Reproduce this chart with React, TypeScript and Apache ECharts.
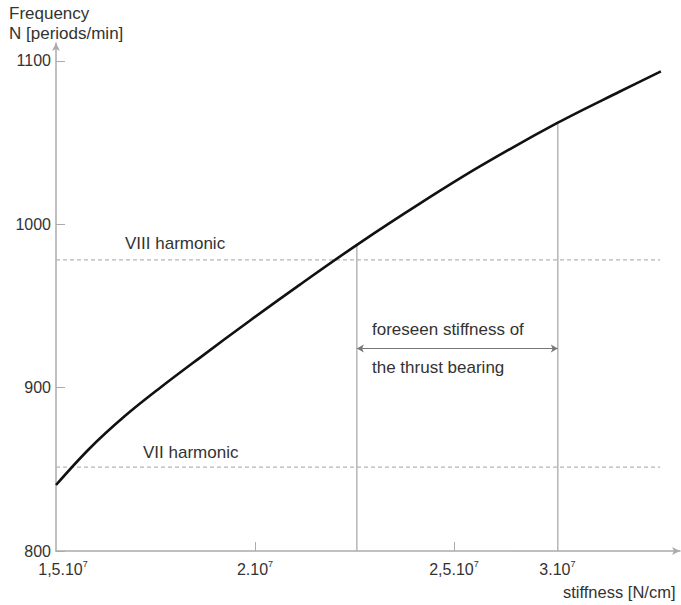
import React, { useEffect, useRef } from "react";
import * as echarts from "echarts";

// stiffness in units of 1e7 N/cm (as positioned in the drawing)
const stiffness = [1.5, 1.585, 1.673, 1.761, 1.862, 1.987, 2.113, 2.259, 2.415, 2.565, 2.761, 2.917, 3.02];
const frequency = [840.4, 862.9, 882.6, 899.8, 918.4, 941, 963.1, 987.9, 1012.8, 1035.4, 1062.2, 1081.3, 1093.6];

const harmonicNames = ["VIII harmonic", "VII harmonic"];
const harmonicLevels = [978.2, 851.4];
const harmonicSpan = [1.5, 3.018];

const bearingStiffness = [2.256, 2.761];
const bearingFrequency = [987.6, 1062.2];
const bearingArrowLevel = 924;

const directionArrowX = [2.151, 2.382];
const directionArrowY = 776.7;

const xTickValues = [1.5, 2.0, 2.5, 2.76];
const xTickLabels = ["1,5", "2", "2,5", "3"];
const xMinorTicks = [2.0, 2.5];
const yTickValues = [800, 900, 1000, 1100];

const FONT = "'Liberation Sans', Arial, Helvetica, sans-serif";
const TXT = "#333";
const GRAY = "#ababab";

export default function App() {
  const ref = useRef<HTMLDivElement>(null);
  useEffect(() => {
    const chart = echarts.init(ref.current!, null, { renderer: "svg" });
    const text = (x: number, y: number, t: string, size = 17) => ({
      type: "text",
      x,
      y,
      silent: true,
      style: { text: t, fontSize: size, fontFamily: FONT, fill: TXT, verticalAlign: "middle" },
    });
    const option: any = {
      animation: false,
      backgroundColor: "#fff",
      grid: { left: 56, right: 1, top: 43, bottom: 54, outerBoundsMode: "none" },
      xAxis: {
        type: "value",
        min: 1.5,
        max: 3.068,
        splitLine: { show: false },
        axisLine: { lineStyle: { color: GRAY, width: 1.5 }, symbol: ["none", "arrow"], symbolSize: [6, 8] },
        axisTick: { show: true, inside: true, length: 9, lineStyle: { color: GRAY }, customValues: xMinorTicks },
        axisLabel: {
          customValues: xTickValues,
          margin: 8,
          formatter: (v: number) => {
            const i = xTickValues.findIndex((t) => Math.abs(t - v) < 1e-6);
            if (i < 0) return "";
            return i === 0 ? `{p|}{a|${xTickLabels[i]}.10}{s|7}` : `{a|${xTickLabels[i]}.10}{s|7}`;
          },
          rich: {
            p: { width: 14 },
            a: { fontSize: 16, fontFamily: FONT, color: TXT, lineHeight: 20 },
            s: { fontSize: 9, fontFamily: FONT, color: TXT, verticalAlign: "top", lineHeight: 12 },
          },
        },
      },
      yAxis: {
        type: "value",
        min: 800,
        max: 1111,
        splitLine: { show: false },
        axisLine: { show: true, lineStyle: { color: GRAY, width: 1.5 }, symbol: ["none", "arrow"], symbolSize: [6, 8] },
        axisTick: { show: true, inside: true, length: 9, lineStyle: { color: GRAY }, customValues: yTickValues },
        axisLabel: {
          customValues: yTickValues,
          margin: 5,
          fontSize: 16,
          fontFamily: FONT,
          color: TXT,
          formatter: (v: number) => String(Math.round(v)),
        },
      },
      series: [
        ...harmonicLevels.map((lvl, i) => ({
          type: "line",
          name: harmonicNames[i],
          data: harmonicSpan.map((x) => [x, lvl]),
          symbol: "none",
          clip: false,
          lineStyle: { color: "#b5b5b5", width: 1.2, type: [4, 3] },
        })),
        ...bearingStiffness.map((x, i) => ({
          type: "line",
          data: [
            [x, 800],
            [x, bearingFrequency[i]],
          ],
          symbol: "none",
          clip: false,
          lineStyle: { color: GRAY, width: 1.3 },
        })),
        {
          type: "line",
          data: [],
          clip: false,
          markLine: {
            silent: true,
            animation: false,
            symbol: ["arrow", "arrow"],
            symbolSize: [6, 7],
            label: { show: false },
            lineStyle: { color: "#777", width: 1.2, type: "solid" },
            data: [
              [
                { coord: [bearingStiffness[0], bearingArrowLevel] },
                { coord: [bearingStiffness[1], bearingArrowLevel] },
              ],
              [
                { coord: [directionArrowX[0], directionArrowY], symbol: "none" },
                { coord: [directionArrowX[1], directionArrowY], symbol: "arrow" },
              ],
            ],
          },
        },
        {
          type: "line",
          name: "frequency",
          data: stiffness.map((x, i) => [x, frequency[i]]),
          smooth: 0.35,
          symbol: "none",
          clip: false,
          lineStyle: { color: "#111", width: 2.6 },
        },
      ],
      graphic: [
        text(9, 13, "Frequency"),
        text(9, 33, "N [periods/min]"),
        text(125, 243, harmonicNames[0]),
        text(143, 452, harmonicNames[1]),
        text(372, 329, "foreseen stiffness of"),
        text(372, 367, "the thrust bearing"),
        text(563, 592, "stiffness [N/cm]", 16.5),
      ],
    };
    chart.setOption(option);
    return () => chart.dispose();
  }, []);
  return <div ref={ref} style={{ position: "absolute", left: 0, top: 0, width: 681, height: 605 }} />;
}
